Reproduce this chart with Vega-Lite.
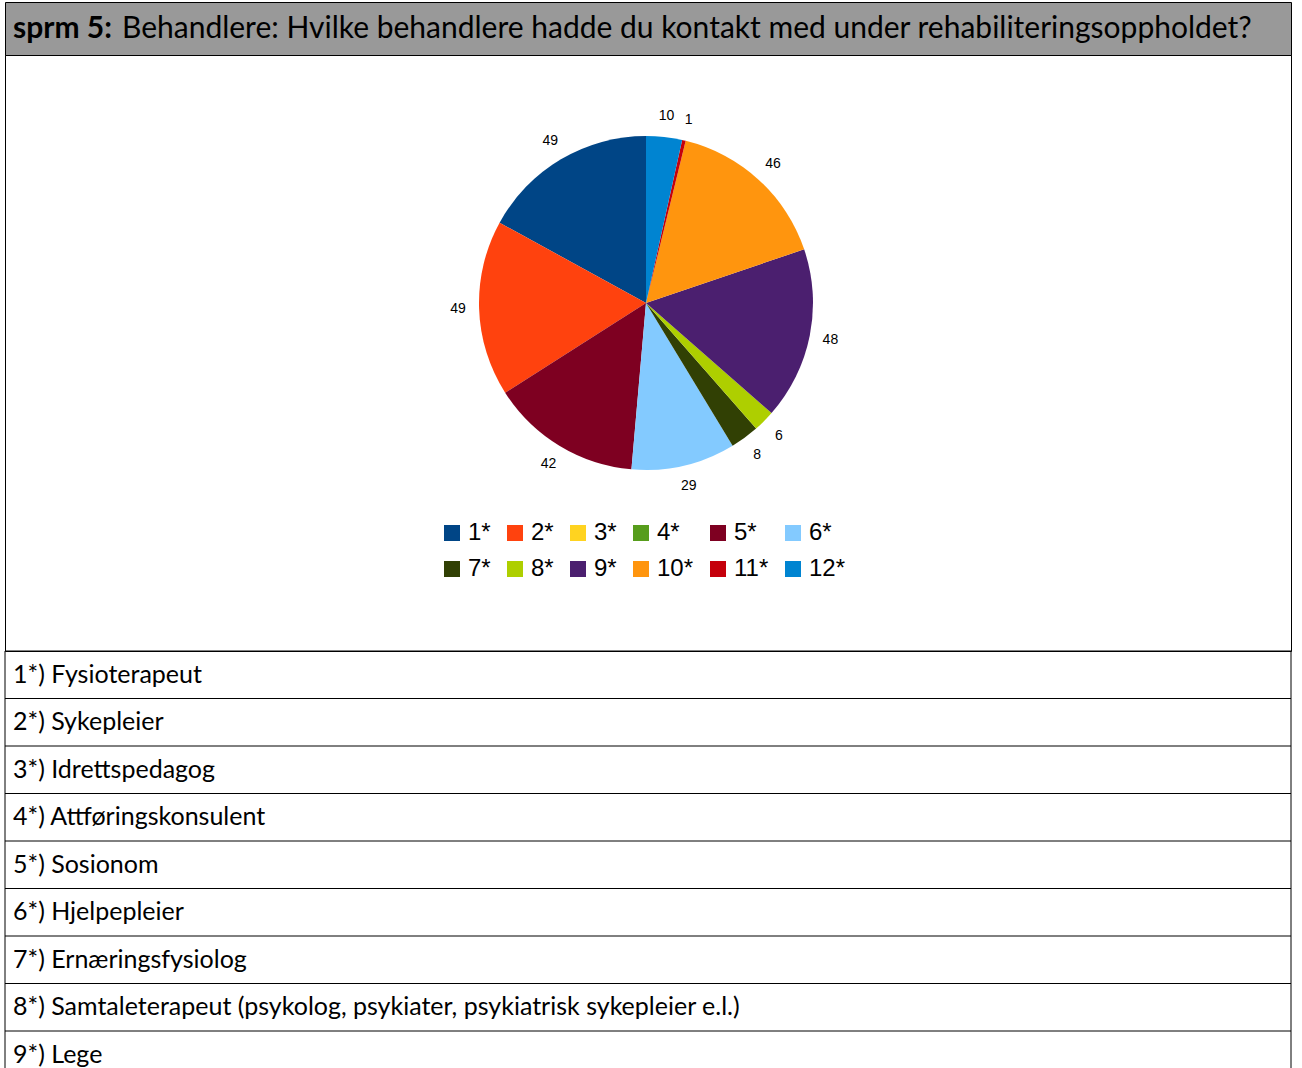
{
  "$schema": "https://vega.github.io/schema/vega-lite/v6.json",
  "padding": {"left": 4, "top": 1, "right": 0, "bottom": 0},
  "spacing": 0,
  "bounds": "flush",
  "background": "white",
  "config": {"view": {"stroke": "black", "strokeWidth": 1}, "concat": {"spacing": 0}},
  "vconcat": [
    {
      "width": 1286,
      "height": 53,
      "view": {"fill": "#999999", "stroke": "black"},
      "data": {"values": [
        {"part": "sprm 5:", "kind": "bold"},
        {"part": "Behandlere: Hvilke behandlere hadde du kontakt med under rehabiliteringsoppholdet?", "kind": "normal"}
      ]},
      "layer": [
        {
          "transform": [{"filter": "datum.kind == 'bold'"}],
          "mark": {"type": "text", "align": "left", "baseline": "middle", "font": "Lato", "fontWeight": "bold", "fontSize": 30, "color": "black", "x": 8, "y": 27},
          "encoding": {"text": {"field": "part"}}
        },
        {
          "transform": [{"filter": "datum.kind == 'normal'"}],
          "mark": {"type": "text", "align": "left", "baseline": "middle", "font": "Lato", "fontSize": 30, "color": "black", "x": 117, "y": 27},
          "encoding": {"text": {"field": "part"}}
        }
      ]
    },
    {
      "width": 1286,
      "height": 596,
      "view": {"stroke": "black"},
      "data": {"values": [
        {"cat": "1*", "n": 49, "idx": 1},
        {"cat": "2*", "n": 49, "idx": 2},
        {"cat": "3*", "n": 0, "idx": 3},
        {"cat": "4*", "n": 0, "idx": 4},
        {"cat": "5*", "n": 42, "idx": 5},
        {"cat": "6*", "n": 29, "idx": 6},
        {"cat": "7*", "n": 8, "idx": 7},
        {"cat": "8*", "n": 6, "idx": 8},
        {"cat": "9*", "n": 48, "idx": 9},
        {"cat": "10*", "n": 46, "idx": 10},
        {"cat": "11*", "n": 1, "idx": 11},
        {"cat": "12*", "n": 10, "idx": 12}
      ]},
      "layer": [
        {
          "mark": {"type": "arc", "outerRadius": 167, "x": 641, "y": 248},
          "encoding": {
            "theta": {"field": "n", "type": "quantitative", "stack": true},
            "order": {"field": "idx", "type": "quantitative", "sort": "descending"},
            "color": {
              "field": "cat", "type": "nominal",
              "scale": {
                "domain": ["1*", "2*", "3*", "4*", "5*", "6*", "7*", "8*", "9*", "10*", "11*", "12*"],
                "range": ["#004586", "#ff420e", "#ffd320", "#579d1c", "#7e0021", "#83caff", "#314004", "#aecf00", "#4b1f6f", "#ff950e", "#c5000b", "#0084d1"]
              },
              "legend": {
                "orient": "none", "legendX": 435, "legendY": 519, "columns": 6, "direction": "horizontal",
                "title": null, "symbolType": "square", "symbolSize": 256, "symbolStrokeWidth": 0,
                "labelFont": "Liberation Sans", "labelFontSize": 24, "labelColor": "black",
                "labelOffset": 4, "columnPadding": 12, "rowPadding": 12, "padding": 0
              }
            }
          }
        },
        {
          "transform": [{"filter": "datum.n > 0"}],
          "mark": {"type": "text", "radius": 188, "x": 641, "y": 248, "font": "Liberation Sans", "fontSize": 14, "color": "black", "align": "center", "baseline": "middle"},
          "encoding": {
            "theta": {"field": "n", "type": "quantitative", "stack": true},
            "order": {"field": "idx", "type": "quantitative", "sort": "descending"},
            "text": {"field": "n", "type": "quantitative"}
          }
        }
      ]
    },
    {
      "width": 1286,
      "height": 418,
      "view": {"stroke": null},
      "data": {"values": [
        {"label": "1*) Fysioterapeut"},
        {"label": "2*) Sykepleier"},
        {"label": "3*) Idrettspedagog"},
        {"label": "4*) Attføringskonsulent"},
        {"label": "5*) Sosionom"},
        {"label": "6*) Hjelpepleier"},
        {"label": "7*) Ernæringsfysiolog"},
        {"label": "8*) Samtaleterapeut (psykolog, psykiater, psykiatrisk sykepleier e.l.)"},
        {"label": "9*) Lege"}
      ]},
      "layer": [
        {
          "mark": {"type": "rule", "color": "black", "strokeWidth": 1},
          "encoding": {
            "y": {"field": "label", "type": "nominal", "sort": null, "bandPosition": 0,
                  "scale": {"type": "band", "range": [0, 427.5], "paddingInner": 0, "paddingOuter": 0}, "axis": null}
          }
        },
        {
          "data": {"values": [{"side": "left"}, {"side": "right"}]},
          "mark": {"type": "rule", "color": "black", "strokeWidth": 1},
          "encoding": {
            "x": {"field": "side", "type": "nominal", "scale": {"type": "point", "padding": 0}, "axis": null}
          }
        },
        {
          "mark": {"type": "text", "align": "left", "baseline": "middle", "font": "Lato", "fontSize": 25, "color": "black", "dx": 8},
          "encoding": {
            "x": {"datum": "left", "type": "nominal"},
            "y": {"field": "label", "type": "nominal", "sort": null, "axis": null},
            "text": {"field": "label"}
          }
        }
      ]
    }
  ]
}
